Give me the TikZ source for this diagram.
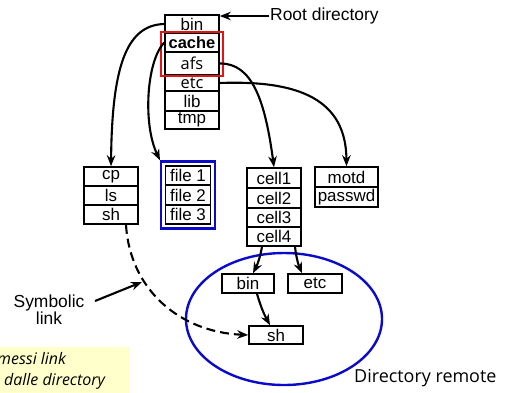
\documentclass[tikz,border=0pt]{standalone}
\usepackage{fontspec}
\setmainfont{Liberation Sans}
\newfontfamily\comicfont{Open Sans}
\usetikzlibrary{arrows.meta,shapes.geometric,fit}
\definecolor{frameRed}{RGB}{228,20,20}
\definecolor{frameBlue}{RGB}{10,10,200}
\definecolor{noteYellow}{RGB}{255,255,204}
\begin{document}
\begin{tikzpicture}[x=1bp,y=-1bp,
  row/.style={draw, line width=1.6bp, inner sep=0pt, minimum width=54bp,
              font=\fontsize{17}{17}\selectfont},
  boldrow/.style={row, font=\bfseries\fontsize{16.5}{17}\selectfont},
  comicrow/.style={row, font=\comicfont\fontsize{16.5}{17}\selectfont},
  link/.style={line width=2.1bp, -{Stealth[length=11bp,width=8.5bp]}},
  label/.style={inner sep=1bp, font=\fontsize{17.5}{17}\selectfont}]

\useasboundingbox (0,0) rectangle (506,392);
\clip (0,0) rectangle (506,392);

% note box in the lower left corner
\fill[noteYellow] (-2,347) rectangle (130,394);
\node[anchor=west, inner sep=0pt, font=\comicfont\itshape\fontsize{16}{16}\selectfont] (noteA) at (-3,359) {messi link};
\node[anchor=west, inner sep=0pt, font=\comicfont\itshape\fontsize{16}{16}\selectfont] (noteB) at (4,381) {dalle directory};

% root directory
\node[row, minimum height=18bp] (bin) at (192,24) {bin};
\node[boldrow, minimum height=19bp] (cache) at (192,42.5) {cache};
\node[comicrow, minimum height=23bp] (afs) at (192,63.5) {afs};
\node[comicrow, minimum height=16bp] (etc) at (192,83) {etc};
\node[row, minimum height=20bp] (lib) at (192,101) {lib};
\node[row, minimum height=18bp] (tmp) at (192,120) {tmp};
\draw[frameRed, line width=2.4bp] ([xshift=-3bp]cache.north west) rectangle ([xshift=3bp]afs.south east);

\node[label, anchor=west] (rootlbl) at (269,16) {Root directory};
\draw[link] (rootlbl.west) -- (rootlbl.west -| bin.east);

% /bin
\node[row, minimum height=19bp] (cp) at (111,176.5) {cp};
\node[row, minimum height=19bp] (ls) at (111,195.5) {ls};
\node[row, minimum height=19bp] (cpsh) at (111,214.5) {sh};

% cached files
\node[row, minimum width=45bp, minimum height=19.5bp] (file1) at (188,175.5) {file 1};
\node[row, minimum width=45bp, minimum height=19.5bp] (file2) at (188,195) {file 2};
\node[row, minimum width=45bp, minimum height=19.5bp] (file3) at (188,214.5) {file 3};
\node[draw=frameBlue, line width=2.4bp, inner sep=3.5bp, fit=(file1)(file3)] (files) {};

% /afs
\node[row, minimum height=20bp] (cell1) at (274,178) {cell1};
\node[row, minimum height=20bp] (cell2) at (274,198) {cell2};
\node[row, minimum height=19bp] (cell3) at (274,217.5) {cell3};
\node[row, minimum height=19bp] (cell4) at (274,236.5) {cell4};

% /etc
\node[row, minimum width=63bp, minimum height=20bp] (motd) at (346.5,177) {motd};
\node[row, minimum width=63bp, minimum height=20bp] (passwd) at (346.5,197) {passwd};

% remote tree
\node[draw=frameBlue, line width=2.4bp, ellipse, inner sep=0pt,
      minimum width=196bp, minimum height=132bp] (remote) at (284,319) {};
\node[row, minimum width=52bp, minimum height=19bp] (rbin) at (248,283.5) {bin};
\node[row, minimum height=19bp] (retc) at (315,283.5) {etc};
\node[row, minimum height=18bp] (rsh) at (276,335) {sh};
\node[anchor=west, inner sep=0pt, font=\comicfont\fontsize{18}{18}\selectfont] (remotelbl) at (354,378) {Directory remote};

% connectors from the root directory
\draw[link] (bin.west) .. controls (125,25) and (112,70) .. (cp.north);
\draw[link] (cache.west) .. controls (146,62) and (143,125) .. (files.north west);
\draw[link] (afs.east) .. controls (252,63) and (265,100) .. (cell1.north);
\draw[link] (etc.east) .. controls (300,80) and (346,100) .. (motd.north);

% connectors inside the remote tree
\draw[link] ([xshift=-12bp]cell4.south) to[bend left=8] ([xshift=5bp]rbin.north);
\draw[link] ([xshift=21bp]cell4.south) to[bend right=8] ([xshift=-13bp]retc.north);
\draw[link] ([xshift=9bp]rbin.south) to[bend right=6] ([xshift=-6bp]rsh.north);

% symbolic link
\draw[link, dash pattern=on 9bp off 5bp] ([xshift=15bp]cpsh.south) .. controls (130,290) and (180,332) .. (rsh.west);
\node[label, align=center] (symlbl) at (49,309.5) {Symbolic\\link};
\coordinate (symtail) at (95,301);
\coordinate (symtip) at (142,282);
\draw[link] (symtail) -- (symtip);
\end{tikzpicture}
\end{document}
